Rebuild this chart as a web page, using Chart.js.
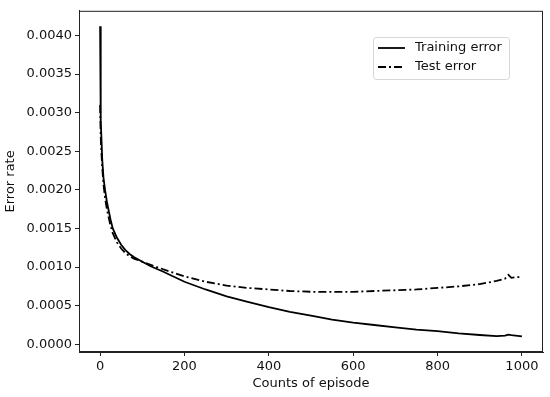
<!DOCTYPE html>
<html lang="en">
<head>
  <meta charset="UTF-8">
  <title>Error rate vs episodes</title>
  <script src="https://cdn.jsdelivr.net/npm/chart.js"></script>
  <style>
    html, body { margin: 0; padding: 0; background: #fff; }
    #wrap { width: 550px; height: 397px; }
  </style>
</head>
<body>
  <div id="wrap"><canvas id="errChart"></canvas></div>

  <script>
    // values
    const episodes = [0, 1, 2, 3, 5, 8, 12, 16, 20, 25, 30, 40, 50, 60, 70, 80, 100, 120, 150, 200,
                      250, 300, 350, 400, 450, 500, 550, 600, 650, 700, 750, 800, 850, 900, 940, 960, 968, 975, 985, 1000];
    const trainErr = [0.00412, 0.0033, 0.0029, 0.0027, 0.00240, 0.00216, 0.00199, 0.00185, 0.00174, 0.00161, 0.00150,
                      0.00138, 0.00129, 0.00122, 0.00117, 0.00113, 0.00107, 0.00101, 0.00094, 0.00081,
                      0.00071, 0.00062, 0.00055, 0.00048, 0.00042, 0.00037, 0.00032, 0.00028, 0.00025, 0.00022,
                      0.00019, 0.00017, 0.00014, 0.00012, 0.000105, 0.000112, 0.000125, 0.000118, 0.000112, 0.000102];
    const testErr  = [0.0031, 0.0028, 0.0026, 0.0025, 0.00230, 0.00207, 0.00189, 0.00175, 0.00165, 0.00153, 0.00144,
                      0.00132, 0.00124, 0.00118, 0.00114, 0.00111, 0.00107, 0.00103, 0.00097, 0.00088,
                      0.00081, 0.00076, 0.00073, 0.00071, 0.00069, 0.00068, 0.00068, 0.00068, 0.00069, 0.00070,
                      0.00071, 0.00073, 0.00075, 0.00078, 0.00082, 0.00085, 0.00090, 0.00086, 0.00087, 0.00087];
    const xTicks = [0, 200, 400, 600, 800, 1000];
    const yTicks = [0, 0.0005, 0.001, 0.0015, 0.002, 0.0025, 0.003, 0.0035, 0.004];
    const seriesNames = ['Training error', 'Test error'];

    const FONT = { family: 'DejaVu Sans', size: 13 };
    const testDash = [8, 3, 2, 3];

    // matplotlib-like frame + legend inside the axes
    const framePlugin = {
      id: 'frame',
      afterDraw(chart) {
        const { ctx, chartArea: a } = chart;
        ctx.save();
        ctx.strokeStyle = '#222';
        ctx.lineWidth = 1;
        ctx.strokeRect(a.left + 0.5, a.top + 0.5, a.right - a.left - 1, a.bottom - a.top - 1);

        // legend box
        const bx = 373, by = 37, bw = 136, bh = 42;
        ctx.strokeStyle = '#d6d6d6';
        ctx.fillStyle = 'rgba(255,255,255,0.8)';
        ctx.beginPath();
        ctx.roundRect(bx + 0.5, by + 0.5, bw, bh, 3);
        ctx.fill();
        ctx.stroke();

        ctx.font = FONT.size + 'px ' + FONT.family;
        ctx.textBaseline = 'middle';
        chart.data.datasets.forEach((ds, i) => {
          const y = by + 11 + i * 19;
          ctx.strokeStyle = '#000';
          ctx.lineWidth = ds.borderWidth;
          ctx.setLineDash(ds.borderDash || []);
          ctx.beginPath();
          ctx.moveTo(bx + 5, y);
          ctx.lineTo(bx + 32, y);
          ctx.stroke();
          ctx.setLineDash([]);
          ctx.fillStyle = '#111';
          ctx.fillText(ds.label, bx + 42, y);
        });
        ctx.restore();
      }
    };

    new Chart(document.getElementById('errChart'), {
      type: 'line',
      data: {
        datasets: [
          {
            label: seriesNames[0],
            data: episodes.map((x, i) => ({ x, y: trainErr[i] })),
            borderColor: '#000',
            borderWidth: 1.8,
            pointRadius: 0,
            tension: 0
          },
          {
            label: seriesNames[1],
            data: episodes.map((x, i) => ({ x, y: testErr[i] })),
            borderColor: '#000',
            borderWidth: 1.8,
            borderDash: testDash,
            pointRadius: 0,
            tension: 0
          }
        ]
      },
      options: {
        responsive: true,
        maintainAspectRatio: false,
        animation: false,
        layout: { padding: { top: 7, right: 7, left: 0, bottom: 0 } },
        plugins: { legend: { display: false }, tooltip: { enabled: false } },
        scales: {
          x: {
            type: 'linear',
            min: -50,
            max: 1050,
            afterBuildTicks: s => { s.ticks = xTicks.map(v => ({ value: v })); },
            afterFit: s => { s.height = 45; },
            ticks: { color: '#111', font: FONT, padding: 3, maxRotation: 0, callback: v => String(v) },
            grid: { display: true, drawOnChartArea: false, tickLength: 4, color: '#222' },
            border: { display: true, color: '#222' },
            title: { display: true, text: 'Counts of episode', color: '#111', font: FONT, padding: { top: 0, bottom: 6 } }
          },
          y: {
            type: 'linear',
            min: -0.0001,
            max: 0.00432,
            afterBuildTicks: s => { s.ticks = yTicks.map(v => ({ value: v })); },
            afterFit: s => { s.width = 79; },
            ticks: { color: '#111', font: FONT, padding: 3, callback: v => v.toFixed(4) },
            grid: { display: true, drawOnChartArea: false, tickLength: 4, color: '#222' },
            border: { display: true, color: '#222' },
            title: { display: true, text: 'Error rate', color: '#111', font: FONT, padding: { top: 3, bottom: 0 } }
          }
        }
      },
      plugins: [framePlugin]
    });
  </script>
</body>
</html>
